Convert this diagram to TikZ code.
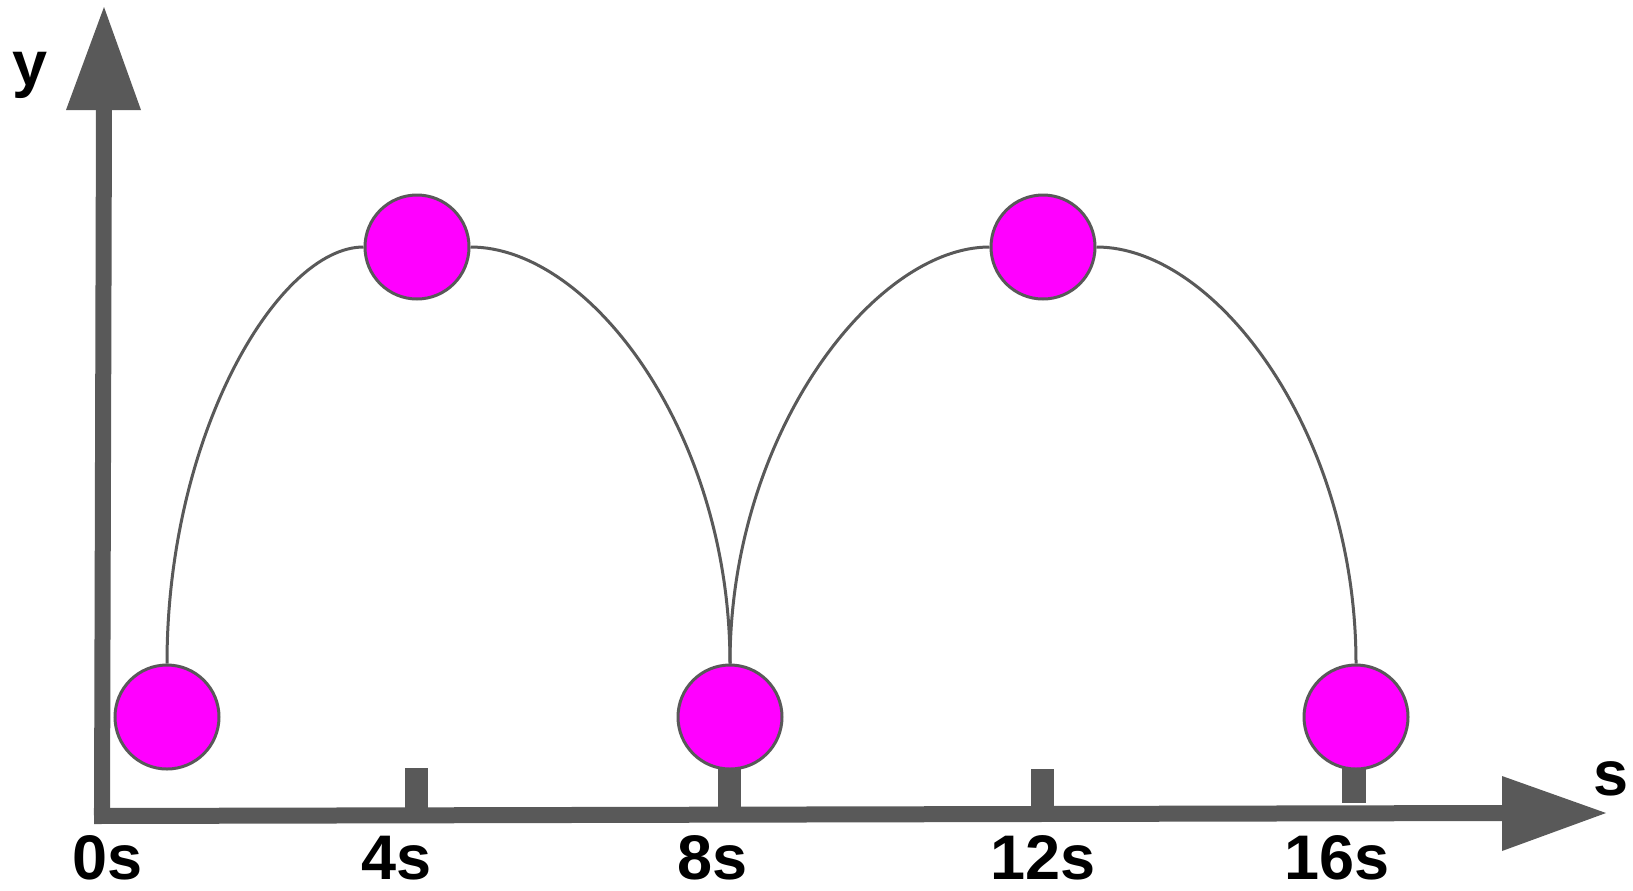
\documentclass[tikz,border=0pt]{standalone}
\usepackage{fontspec}
\setmainfont{Liberation Sans}
\definecolor{axisgray}{RGB}{89,89,89}
\definecolor{ballfill}{RGB}{255,0,255}
\begin{document}
\begin{tikzpicture}[x=0.5pt,y=-0.5pt,
  ball/.style={circle,draw=axisgray,line width=1.5pt,fill=ballfill,minimum size=52pt,inner sep=0pt},
  path/.style={draw=axisgray,line width=1.5pt},
  axis/.style={draw=axisgray,line width=8pt},
  tickmark/.style={fill=axisgray},
  lbl/.style={font=\fontsize{31.5}{36}\selectfont\bfseries,anchor=base,inner sep=0pt}]
\useasboundingbox (0,0) rectangle (1633,890);
% axes
\draw[axis] (102,816) -- (104,108);
\fill[axisgray] (104,7) -- (141,110) -- (66,110) -- cycle;
\draw[axis] (94,816) -- (1504,813);
\fill[axisgray] (1502,776) -- (1606,813) -- (1502,851) -- cycle;
% ticks
\fill[tickmark] (405,768) rectangle (428,812);
\fill[tickmark] (718,768) rectangle (741,812);
\fill[tickmark] (1031,769) rectangle (1054,811);
\fill[tickmark] (1342,768) rectangle (1366,803);
% balls
\node[ball] (b1) at (167,717) {};
\node[ball] (t1) at (417,247) {};
\node[ball] (b2) at (730,717) {};
\node[ball] (t2) at (1043,247) {};
\node[ball] (b3) at (1356,717) {};
% paths
\draw[path] (b1.north) .. controls +(0,-230) and +(-85,0) .. (t1.west);
\draw[path] (t1.east) .. controls +(120,0) and +(0,-230) .. (b2.north);
\draw[path] (b2.north) .. controls +(0,-230) and +(-115,0) .. (t2.west);
\draw[path] (t2.east) .. controls +(120,0) and +(0,-230) .. (b3.north);
% labels
\node[lbl] (l0) at (108,879) {0s};
\node[lbl] (l4) at (397,879) {4s};
\node[lbl] (l8) at (713,879) {8s};
\node[lbl] (l12) at (1043,879) {12s};
\node[lbl] (l16) at (1337,879) {16s};
\node[lbl] (ly) at (30,85) {y};
\node[lbl] (ls) at (1611,795) {s};
\end{tikzpicture}
\end{document}
